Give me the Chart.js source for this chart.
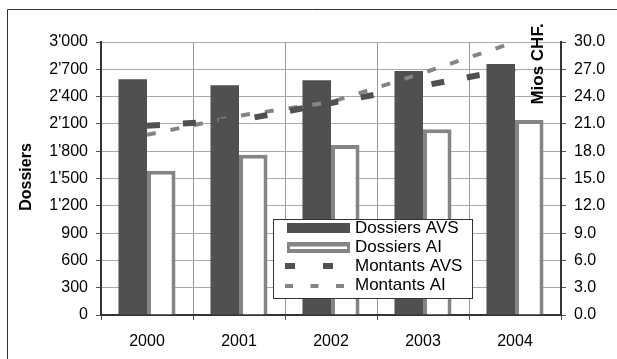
<!DOCTYPE html>
<html>
<head>
<meta charset="utf-8">
<script src="https://cdn.jsdelivr.net/npm/chart.js@4.4.1/dist/chart.umd.min.js"></script>
<style>
  html, body { margin: 0; padding: 0; background: #fff; }
  #wrap { width: 617px; height: 359px; position: relative; }
</style>
</head>
<body>
<div id="wrap"><canvas id="c" width="617" height="359"></canvas></div>
<script>
const categories = ['2000', '2001', '2002', '2003', '2004'];
const dossiersAVS = [2590, 2524, 2579, 2681, 2758];
const dossiersAI = [1585, 1762, 1868, 2040, 2143];
const montantsAVS = [20.8, 21.4, 23.3, 25.2, 27.1];
const montantsAI = [19.8, 21.9, 23.4, 26.6, 30.0];
const leftTicks = ['0', '300', '600', '900', '1\'200', '1\'500', '1\'800', '2\'100', '2\'400', '2\'700', '3\'000'];
const rightTicks = ['0.0', '3.0', '6.0', '9.0', '12.0', '15.0', '18.0', '21.0', '24.0', '27.0', '30.0'];
const seriesNames = ['Dossiers AVS', 'Dossiers AI', 'Montants AVS', 'Montants AI'];
const leftTitle = 'Dossiers';
const rightTitle = 'Mios CHF.';

const FONT = '"Liberation Sans", Arial, sans-serif';
const DARK = '#505050';
const GRAYB = '#858585';

const decor = {
  id: 'decor',
  beforeDraw(chart) {
    const ctx = chart.ctx;
    ctx.save();
    ctx.fillStyle = '#fff';
    ctx.fillRect(0, 0, chart.width, chart.height);
    ctx.strokeStyle = '#333';
    ctx.lineWidth = 1;
    ctx.beginPath();
    ctx.moveTo(7.5, chart.height + 2);
    ctx.lineTo(7.5, 9.5);
    ctx.lineTo(chart.width + 2, 9.5);
    ctx.stroke();
    ctx.restore();
  },
  afterDraw(chart) {
    const ctx = chart.ctx;
    ctx.save();
    ctx.fillStyle = '#000';
    ctx.textAlign = 'center';
    ctx.textBaseline = 'middle';
    ctx.font = 'bold 16px ' + FONT;
    ctx.save();
    ctx.translate(27, 177);
    ctx.rotate(-Math.PI / 2);
    ctx.fillText(leftTitle, 0, 0);
    ctx.restore();
    ctx.font = 'bold 17px ' + FONT;
    ctx.save();
    ctx.translate(538, 64);
    ctx.rotate(-Math.PI / 2);
    ctx.fillText(rightTitle, 0, 0);
    ctx.restore();

    // legend box
    const lx = 273.5, ly = 219.5, lw = 199, lh = 79;
    ctx.fillStyle = '#fff';
    ctx.fillRect(lx, ly, lw, lh);
    ctx.strokeStyle = '#333';
    ctx.lineWidth = 1;
    ctx.strokeRect(lx, ly, lw, lh);

    const sx0 = 287, sx1 = 350, tx = 355;
    const rows = [228, 247.5, 266, 285];
    ctx.fillStyle = DARK;
    ctx.fillRect(sx0, rows[0] - 5, sx1 - sx0, 10);
    ctx.fillStyle = GRAYB;
    ctx.fillRect(sx0, rows[1] - 5.5, sx1 - sx0, 11);
    ctx.fillStyle = '#fff';
    ctx.fillRect(sx0 + 3, rows[1] - 1, sx1 - sx0 - 6, 2.5);
    ctx.strokeStyle = DARK;
    ctx.lineWidth = 6;
    ctx.setLineDash([10, 28]);
    ctx.beginPath();
    ctx.moveTo(285, rows[2]);
    ctx.lineTo(350, rows[2]);
    ctx.stroke();
    ctx.strokeStyle = GRAYB;
    ctx.lineWidth = 4;
    ctx.setLineDash([8, 17.5]);
    ctx.beginPath();
    ctx.moveTo(285, rows[3] + 1);
    ctx.lineTo(350, rows[3] + 1);
    ctx.stroke();
    ctx.setLineDash([]);

    ctx.fillStyle = '#000';
    ctx.font = '17px ' + FONT;
    ctx.textAlign = 'left';
    ctx.textBaseline = 'middle';
    seriesNames.forEach((n, i) => ctx.fillText(n, tx, rows[i]));
    ctx.restore();
  }
};

new Chart(document.getElementById('c'), {
  data: {
    labels: categories,
    datasets: [
      { type: 'bar', label: seriesNames[0], data: dossiersAVS, yAxisID: 'y',
        backgroundColor: DARK, borderWidth: 0, order: 2,
        categoryPercentage: 0.62, barPercentage: 1.0 },
      { type: 'bar', label: seriesNames[1], data: dossiersAI, yAxisID: 'y',
        backgroundColor: '#fff', borderColor: GRAYB, borderWidth: 4, borderSkipped: 'start', order: 2,
        categoryPercentage: 0.62, barPercentage: 1.0 },
      { type: 'line', label: seriesNames[2], data: montantsAVS, yAxisID: 'y1',
        borderColor: DARK, borderWidth: 6, borderDash: [13, 23], borderCapStyle: 'butt',
        pointRadius: 0, tension: 0, fill: false, order: 0 },
      { type: 'line', label: seriesNames[3], data: montantsAI, yAxisID: 'y1',
        borderColor: GRAYB, borderWidth: 4, borderDash: [9, 15], borderCapStyle: 'butt',
        pointRadius: 0, tension: 0, fill: false, order: 1 }
    ]
  },
  options: {
    responsive: false,
    animation: false,
    devicePixelRatio: 1,
    layout: { padding: { top: 42, left: 0, right: 0, bottom: 0 } },
    plugins: { legend: { display: false }, tooltip: { enabled: false }, title: { display: false } },
    scales: {
      x: {
        type: 'category',
        offset: true,
        grid: { display: true, offset: true, color: '#999', lineWidth: 1, tickLength: 5, drawTicks: true, tickColor: '#555' },
        border: { display: true, color: '#333', width: 2 },
        ticks: { color: '#000', font: { family: FONT, size: 16 }, padding: 12, maxRotation: 0 },
        afterFit(s) { s.height = 44; }
      },
      y: {
        type: 'linear', position: 'left', min: 0, max: 3000,
        grid: { color: '#aaa', lineWidth: 1, tickLength: 5, tickColor: '#555' },
        border: { display: true, color: '#333', width: 2 },
        ticks: { stepSize: 300, color: '#000', font: { family: FONT, size: 16 }, padding: 8,
          callback: (v, i) => leftTicks[i] },
        afterFit(s) { s.width = 101; }
      },
      y1: {
        type: 'linear', position: 'right', min: 0, max: 30,
        grid: { drawOnChartArea: false, tickLength: 5, tickColor: '#555' },
        border: { display: true, color: '#333', width: 2 },
        ticks: { stepSize: 3, color: '#000', font: { family: FONT, size: 16 }, padding: 8,
          callback: (v, i) => rightTicks[i] },
        afterFit(s) { s.width = 56; }
      }
    }
  },
  plugins: [decor]
});
</script>
</body>
</html>
